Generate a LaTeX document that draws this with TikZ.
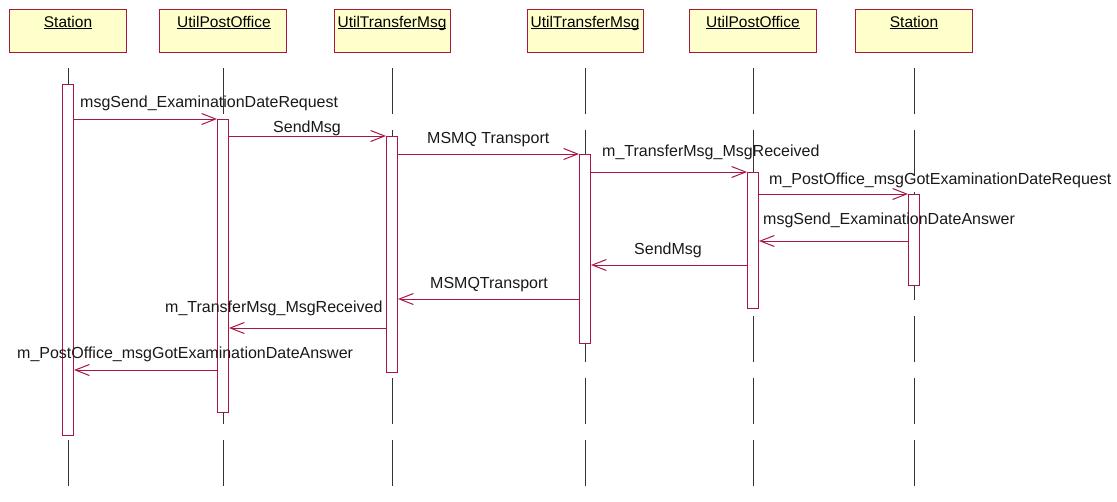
\documentclass[tikz,border=0pt]{standalone}
\usepackage{fontspec}
\setmainfont{Liberation Sans}
\usetikzlibrary{arrows.meta}
\definecolor{umlred}{RGB}{168,22,66}
\definecolor{headfill}{RGB}{255,255,204}
\begin{document}
\begin{tikzpicture}[x=1pt,y=-1pt,
  font=\fontsize{15.5}{18}\selectfont,
  head/.style={draw=umlred, fill=headfill, line width=1pt, minimum height=43pt,
    inner sep=0, anchor=north},
  headtext/.style={anchor=base, inner sep=0},
  act/.style={draw=umlred, fill=white, line width=1pt, minimum width=11pt,
    inner sep=0, anchor=north},
  lifeline/.style={draw=black!80, line width=1pt, dash pattern=on 46pt off 16pt},
  msg/.style={draw=umlred, line width=1pt,
    -{Straight Barb[length=14pt,width=11pt]}},
  msglabel/.style={anchor=base west, inner sep=0, text=black!90,
    font=\fontsize{16}{19}\selectfont}]
\useasboundingbox (0,0) rectangle (1117,501);
\coordinate (bottom) at (0,501);

% object heads
\node[head, minimum width=117pt] (h1) at (68,9) {};
\node[head, minimum width=127pt] (h2) at (223,9) {};
\node[head, minimum width=116pt] (h3) at (392,9) {};
\node[head, minimum width=116pt] (h4) at (585,9) {};
\node[head, minimum width=127pt] (h5) at (753,9) {};
\node[head, minimum width=117pt] (h6) at (914,9) {};
\node[headtext] (t1) at (68,27) {\underline{\smash{Station}}};
\node[headtext] (t2) at (224,27) {\underline{\smash{UtilPostOffice}}};
\node[headtext] (t3) at (392,27) {\underline{\smash{UtilTransferMsg}}};
\node[headtext] (t4) at (585,27) {\underline{\smash{UtilTransferMsg}}};
\node[headtext] (t5) at (753,27) {\underline{\smash{UtilPostOffice}}};
\node[headtext] (t6) at (914,27) {\underline{\smash{Station}}};

% lifelines
\foreach \h in {h1,h2,h3,h4,h5,h6}
  \draw[lifeline] ([yshift=-15pt]\h.south) -- (\h.south |- bottom);

% activation bars
\node[act, minimum height=351pt] (a1) at (68,84) {};
\node[act, minimum height=293pt] (a2) at (223,119) {};
\node[act, minimum height=236pt] (a3) at (392,136) {};
\node[act, minimum height=189pt] (a4) at (585,154) {};
\node[act, minimum height=136pt] (a5) at (753,172) {};
\node[act, minimum height=91pt]  (a6) at (914,194) {};

% messages
\draw[msg] (a1.east |- 0,119) -- (a2.west |- 0,119);
\draw[msg] (a2.east |- 0,136) -- (a3.west |- 0,136);
\draw[msg] (a3.east |- 0,154) -- (a4.west |- 0,154);
\draw[msg] (a4.east |- 0,172) -- (a5.west |- 0,172);
\draw[msg] (a5.east |- 0,194) -- (a6.west |- 0,194);
\draw[msg] (a6.west |- 0,241) -- (a5.east |- 0,241);
\draw[msg] (a5.west |- 0,265) -- (a4.east |- 0,265);
\draw[msg] (a4.west |- 0,299) -- (a3.east |- 0,299);
\draw[msg] (a3.west |- 0,328) -- (a2.east |- 0,328);
\draw[msg] (a2.west |- 0,370) -- (a1.east |- 0,370);

% message labels
\node[msglabel] (l1) at (80,107) {msgSend\_ExaminationDateRequest};
\node[msglabel] (l2) at (273,132) {SendMsg};
\node[msglabel] (l3) at (427,143) {MSMQ Transport};
\node[msglabel] (l4) at (602,156) {m\_TransferMsg\_MsgReceived};
\node[msglabel] (l5) at (769,184) {m\_PostOffice\_msgGotExaminationDateRequest};
\node[msglabel] (l6) at (763,224) {msgSend\_ExaminationDateAnswer};
\node[msglabel] (l7) at (634,254) {SendMsg};
\node[msglabel] (l8) at (430,288) {MSMQTransport};
\node[msglabel] (l9) at (165,312) {m\_TransferMsg\_MsgReceived};
\node[msglabel] (l10) at (17,358) {m\_PostOffice\_msgGotExaminationDateAnswer};
\end{tikzpicture}
\end{document}
